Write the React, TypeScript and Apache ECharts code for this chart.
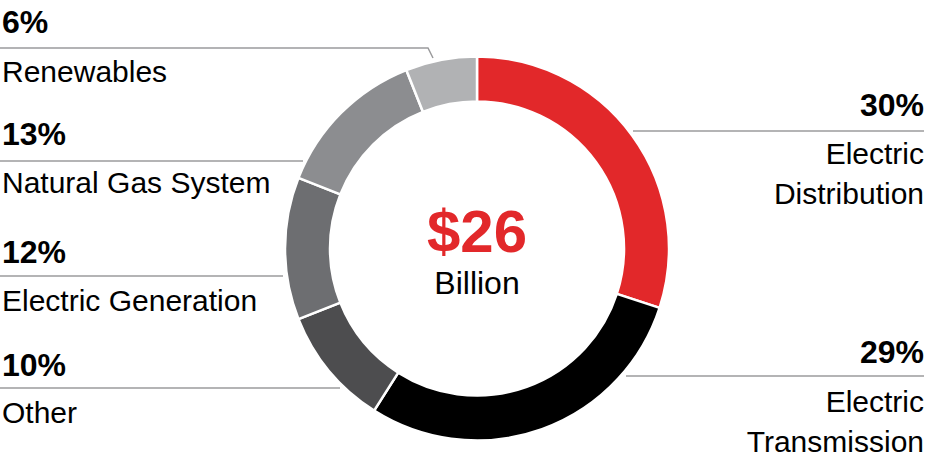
import React, { useEffect, useRef } from "react";
import * as echarts from "echarts";

const categories = [
  "Electric Distribution",
  "Electric Transmission",
  "Other",
  "Electric Generation",
  "Natural Gas System",
  "Renewables",
];
const shares = [30, 29, 10, 12, 13, 6];
const labelRows = [
  ["Electric", "Distribution"],
  ["Electric", "Transmission"],
  ["Other"],
  ["Electric Generation"],
  ["Natural Gas System"],
  ["Renewables"],
];
const totalValue = "$26";
const totalUnit = "Billion";

const colors = ["#e2282a", "#000000", "#4d4d4f", "#6d6e71", "#8c8d90", "#b1b2b4"];

const FONT = "'Liberation Sans', Arial, Helvetica, sans-serif";

// label layout (positions only)
const layout = [
  { side: "right", pctY: 104.5, line: [[633, 131], [924, 131]], nameY: [153.5, 193.5] },
  { side: "right", pctY: 351.5, line: [[626, 376], [924, 376]], nameY: [401.5, 441.5] },
  { side: "left", pctY: 364.5, line: [[0, 388], [340, 388]], nameY: [412.5] },
  { side: "left", pctY: 251.5, line: [[0, 276], [283, 276]], nameY: [300.5] },
  { side: "left", pctY: 134, line: [[0, 161], [303, 161]], nameY: [182.5] },
  { side: "left", pctY: 21.5, line: [[0, 48], [428, 48], [433, 58]], nameY: [71.5] },
];

export default function App() {
  const ref = useRef<HTMLDivElement>(null);
  useEffect(() => {
    if (!ref.current) return;
    const chart = echarts.init(ref.current, null, { renderer: "svg" });
    const graphics: any[] = [];
    categories.forEach((c, i) => {
      const l = layout[i];
      const right = l.side === "right";
      const x = right ? 924 : 2;
      graphics.push({
        type: "polyline",
        shape: { points: l.line },
        style: { stroke: "#9b9b9d", lineWidth: 1.5, fill: null },
        silent: true,
      });
      graphics.push({
        type: "text",
        x,
        y: l.pctY,
        style: {
          text: shares[i] + "%",
          font: `bold 32px ${FONT}`,
          fill: "#000",
          align: right ? "right" : "left",
          verticalAlign: "middle",
        },
      });
      labelRows[i].forEach((row, k) => {
        graphics.push({
          type: "text",
          x,
          y: l.nameY[k],
          style: {
            text: row,
            font: `30px ${FONT}`,
            fill: "#000",
            align: right ? "right" : "left",
            verticalAlign: "middle",
          },
        });
      });
    });
    graphics.push({
      type: "text",
      x: 477,
      y: 231,
      style: {
        text: totalValue,
        font: `bold 60px ${FONT}`,
        fill: "#e2282a",
        align: "center",
        verticalAlign: "middle",
      },
    });
    graphics.push({
      type: "text",
      x: 477,
      y: 283,
      style: {
        text: totalUnit,
        font: `32px ${FONT}`,
        fill: "#000",
        align: "center",
        verticalAlign: "middle",
      },
    });

    chart.setOption({
      animation: false,
      backgroundColor: "#ffffff",
      series: [
        {
          type: "pie",
          center: [477, 248.5],
          radius: [147, 192],
          startAngle: 90,
          clockwise: true,
          label: { show: false },
          labelLine: { show: false },
          silent: true,
          itemStyle: { borderColor: "#ffffff", borderWidth: 2.5 },
          data: categories.map((c, i) => ({
            name: c,
            value: shares[i],
            itemStyle: { color: colors[i] },
          })),
        },
      ],
      graphic: graphics,
    });
    return () => chart.dispose();
  }, []);
  return (
    <div
      ref={ref}
      style={{ position: "absolute", left: 0, top: 0, width: 936, height: 469 }}
    />
  );
}
